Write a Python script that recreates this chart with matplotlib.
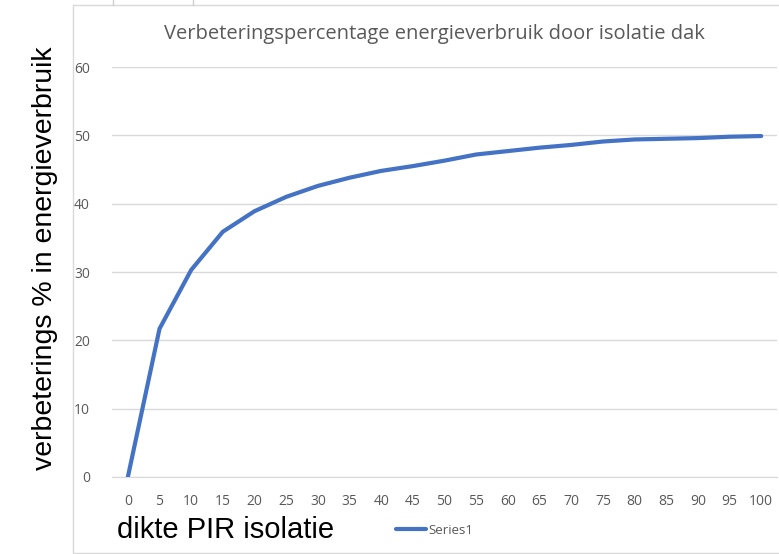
import matplotlib.pyplot as plt
from matplotlib.lines import Line2D
from matplotlib.patches import Rectangle

# dikte PIR isolatie (mm) en verbetering in energieverbruik (%)
dikte = [0, 5, 10, 15, 20, 25, 30, 35, 40, 45, 50,
         55, 60, 65, 70, 75, 80, 85, 90, 95, 100]
verbetering = [0, 21.7, 30.3, 35.9, 38.9, 41.0, 42.6, 43.8, 44.8, 45.5, 46.3,
               47.2, 47.7, 48.2, 48.6, 49.1, 49.4, 49.5, 49.6, 49.8, 49.9]
y_ticks = [0, 10, 20, 30, 40, 50, 60]

titel = "Verbeteringspercentage energieverbruik door isolatie dak"
grijs = "#595959"
lijn_kleur = "#4472C4"

fig = plt.figure(figsize=(7.79, 5.54), dpi=100)
ax = fig.add_axes([0.1438, 0.139, 0.8537, 0.740])

# kader van de grafiek (Excel)
fig.patches.append(Rectangle((73 / 779, 1.5 / 554), 1.0, 547.5 / 554, transform=fig.transFigure,
                             fill=False, edgecolor="#d9d9d9", linewidth=1))
for xp in (113, 193):
    fig.lines.append(Line2D([xp / 779, xp / 779], [549 / 554, 1.0], transform=fig.transFigure,
                            color="#d0d0d0", linewidth=1))

ax.plot(dikte, verbetering, color=lijn_kleur, linewidth=3, solid_capstyle="round",
        label="Series1")

ax.set_xlim(-2.5, 102.5)
ax.set_ylim(0, 60)
ax.set_xticks(dikte)
ax.set_yticks(y_ticks)
ax.yaxis.grid(True, color="#d9d9d9", linewidth=1)
ax.set_axisbelow(True)
for s in ["top", "right", "left"]:
    ax.spines[s].set_visible(False)
ax.spines["bottom"].set_color("#d9d9d9")
ax.tick_params(axis="both", length=0, labelsize=10, labelcolor=grijs)
ax.tick_params(axis="x", pad=12)
ax.tick_params(axis="y", pad=16)
for lbl in ax.get_xticklabels() + ax.get_yticklabels():
    lbl.set_fontfamily("Open Sans")

fig.text(434 / 779, 1 - 34 / 554, titel, ha="center", va="center", fontsize=14.5,
         color=grijs, family="Open Sans")
fig.text(45 / 779, 1 - 258 / 554, "verbeterings % in energieverbruik", rotation=90,
         ha="center", va="center", fontsize=20.5, color="black", family="Liberation Sans")
fig.text(117 / 779, 1 - 530 / 554, "dikte PIR isolatie", ha="left", va="center",
         fontsize=21, color="black", family="Liberation Sans")

leg = fig.legend(loc="center left", bbox_to_anchor=(396 / 779, 1 - 530 / 554), frameon=False,
                 handlelength=2.3, handletextpad=0.15, borderpad=0, borderaxespad=0,
                 prop={"family": "Open Sans", "size": 9.5})
for t in leg.get_texts():
    t.set_color(grijs)

fig.savefig("out.png", dpi=100)
